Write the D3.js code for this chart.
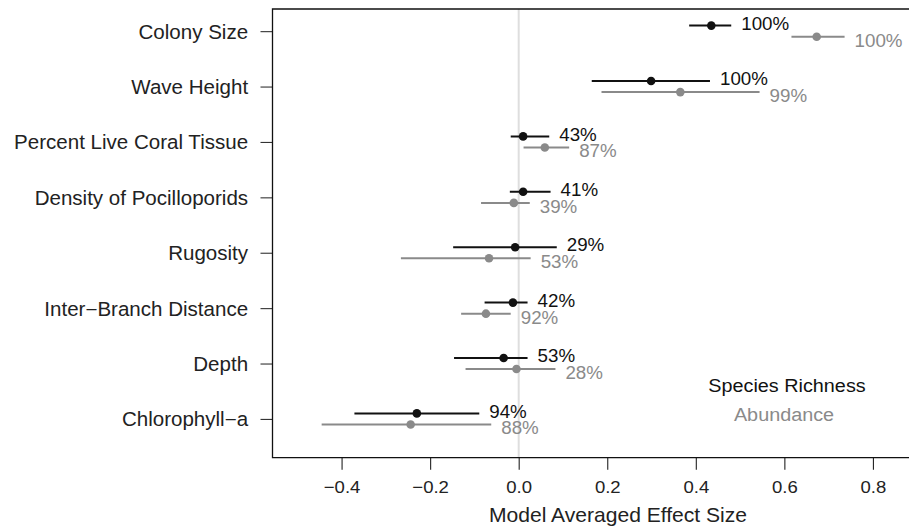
<!DOCTYPE html>
<html>
<head>
<meta charset="utf-8">
<script src="https://cdn.jsdelivr.net/npm/d3@7"></script>
<style>
  html, body { margin: 0; padding: 0; background: #fff; }
  svg { display: block; font-family: "Liberation Sans", Arial, Helvetica, sans-serif; }
</style>
</head>
<body>
<svg id="chart" width="909" height="528"></svg>
<script>
// Predictors, top to bottom
const predictors = [
  "Colony Size", "Wave Height", "Percent Live Coral Tissue", "Density of Pocilloporids",
  "Rugosity", "Inter\u2212Branch Distance", "Depth", "Chlorophyll\u2212a"
];

// Species richness: model-averaged estimate, interval and relative importance
const richnessEst = [0.435, 0.299, 0.010, 0.010, -0.008, -0.013, -0.034, -0.230];
const richnessLo  = [0.385, 0.165, -0.018, -0.020, -0.148, -0.077, -0.146, -0.371];
const richnessHi  = [0.480, 0.432, 0.069, 0.072, 0.086, 0.020, 0.020, -0.089];
const richnessImp = ["100%", "100%", "43%", "41%", "29%", "42%", "53%", "94%"];

// Abundance: model-averaged estimate, interval and relative importance
const abundanceEst = [0.673, 0.365, 0.059, -0.011, -0.067, -0.074, -0.005, -0.244];
const abundanceLo  = [0.616, 0.187, 0.011, -0.085, -0.266, -0.130, -0.120, -0.445];
const abundanceHi  = [0.736, 0.544, 0.114, 0.025, 0.027, -0.018, 0.083, -0.062];
const abundanceImp = ["100%", "99%", "87%", "39%", "53%", "92%", "28%", "88%"];

const xTicks = [-0.4, -0.2, 0.0, 0.2, 0.4, 0.6, 0.8];
const xTitle = "Model Averaged Effect Size";
const seriesNames = ["Species Richness", "Abundance"];

const BLACK = "#111111", GREY = "#8a8a8a";
const STRETCH = 1.065;  // glyphs are drawn slightly wide

const svg = d3.select("#chart");
const box = { left: 272.5, right: 942, top: 9, bottom: 457.7 };

// xlim (-0.5, 0.9) and ylim (0.6, 8.1), each padded by 4%
const x = d3.scaleLinear().domain([-0.556, 0.956]).range([box.left, box.right]);
const y = d3.scaleLinear().domain([0.3, 8.4]).range([box.bottom, box.top]);
const rowPos = i => predictors.length - i;   // first predictor sits at the top

function stretchedText(sel, px, py, str, size, color, anchor) {
  return sel.append("text")
    .attr("transform", `translate(${px},${py}) scale(${STRETCH},1)`)
    .attr("text-anchor", anchor)
    .attr("font-size", size)
    .attr("fill", color)
    .text(str);
}

// zero reference line
svg.append("line")
  .attr("x1", x(0)).attr("x2", x(0))
  .attr("y1", box.top).attr("y2", box.bottom)
  .attr("stroke", "#dedede").attr("stroke-width", 2);

// bottom axis
const xAxis = d3.axisBottom(x)
  .tickValues(xTicks)
  .tickSize(12)
  .tickSizeOuter(0)
  .tickFormat(d => (d < 0 ? "\u2212" : "") + Math.abs(d).toFixed(1));
const gx = svg.append("g").attr("transform", `translate(0,${box.bottom})`).call(xAxis);
gx.select(".domain").remove();
gx.selectAll(".tick line").attr("stroke", "#222").attr("stroke-width", 1.1);
gx.selectAll(".tick text")
  .attr("y", 0).attr("dy", null)
  .attr("transform", `translate(0,35) scale(${STRETCH},1)`)
  .attr("font-size", 17.4)
  .attr("font-family", "Liberation Sans, Arial, sans-serif")
  .attr("fill", "#222");

// left axis with predictor names
const yAxis = d3.axisLeft(y)
  .tickValues(predictors.map((d, i) => rowPos(i)))
  .tickSize(12)
  .tickSizeOuter(0)
  .tickFormat(v => predictors[predictors.length - v]);
const gy = svg.append("g").attr("transform", `translate(${box.left},0)`).call(yAxis);
gy.select(".domain").remove();
gy.selectAll(".tick line").attr("stroke", "#333").attr("stroke-width", 1.1);
gy.selectAll(".tick text")
  .attr("x", 0).attr("dy", null)
  .attr("transform", `translate(-24.4,7) scale(${STRETCH},1)`)
  .attr("font-size", 19.3)
  .attr("font-family", "Liberation Sans, Arial, sans-serif")
  .attr("fill", "#222");

// frame: left, top and bottom edges (right edge lies beyond the page)
svg.append("path")
  .attr("d", `M${box.right},${box.top}H${box.left}V${box.bottom}H${box.right}`)
  .attr("fill", "none").attr("stroke", "#111").attr("stroke-width", 1.3);

// estimates with intervals and importance labels
const series = [
  { est: richnessEst, lo: richnessLo, hi: richnessHi, imp: richnessImp, color: BLACK, shift: 0.1, base: 4.2 },
  { est: abundanceEst, lo: abundanceLo, hi: abundanceHi, imp: abundanceImp, color: GREY, shift: -0.1, base: 10 }
];

series.forEach(s => {
  const g = svg.append("g");
  predictors.forEach((p, i) => {
    const yy = y(rowPos(i) + s.shift);
    g.append("line")
      .attr("x1", x(s.lo[i])).attr("x2", x(s.hi[i]))
      .attr("y1", yy).attr("y2", yy)
      .attr("stroke", s.color).attr("stroke-width", 2);
    g.append("circle")
      .attr("cx", x(s.est[i])).attr("cy", yy).attr("r", 4.3)
      .attr("fill", s.color);
    stretchedText(g, x(s.hi[i]) + 10, yy + s.base, s.imp[i], 17.6, s.color, "start");
  });
});

// legend
stretchedText(svg, 787, 391.5, seriesNames[0], 18.6, BLACK, "middle");
stretchedText(svg, 784, 421, seriesNames[1], 18.6, GREY, "middle");

// x-axis title
stretchedText(svg, 618, 522.3, xTitle, 19.8, "#222", "middle");
</script>
</body>
</html>
